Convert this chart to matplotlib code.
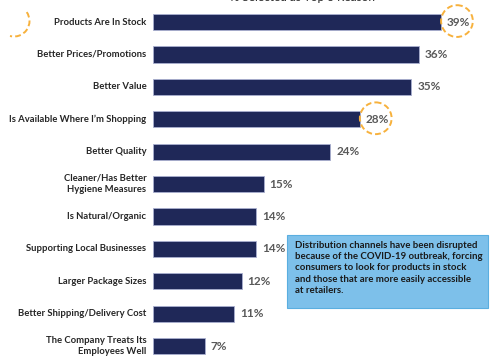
import matplotlib
matplotlib.use('Agg')
import matplotlib.pyplot as plt
from matplotlib.patches import Ellipse, Rectangle, Arc

plt.rcParams['font.family'] = ['Lato', 'DejaVu Sans']

categories = [
    "Products Are In Stock",
    "Better Prices/Promotions",
    "Better Value",
    "Is Available Where I\u2019m Shopping",
    "Better Quality",
    "Cleaner/Has Better\nHygiene Measures",
    "Is Natural/Organic",
    "Supporting Local Businesses",
    "Larger Package Sizes",
    "Better Shipping/Delivery Cost",
    "The Company Treats Its\nEmployees Well",
]
values = [39, 36, 35, 28, 24, 15, 14, 14, 12, 11, 7]
highlight = ["Products Are In Stock", "Is Available Where I\u2019m Shopping"]
title = "% Selected as Top 3 Reason"
note = ("Distribution channels have been disrupted\n"
        "because of the COVID-19 outbreak, forcing\n"
        "consumers to look for products in stock\n"
        "and those that are more easily accessible\n"
        "at retailers.")

NAVY = "#1F2858"
LABEL_GREY = "#595959"
ORANGE = "#F7B13C"
BOX_BLUE = "#7DC0EA"

fig = plt.figure(figsize=(5, 3.59), dpi=100)
ax = fig.add_axes([153 / 500, 0, 1 - 153 / 500, 1])

ypos = list(range(len(categories)))
ax.barh(ypos, values, height=0.5, color=NAVY, edgecolor="#A9AFD0", linewidth=0.6)
ax.set_xlim(0, 47)
ax.set_ylim(10.40, -0.68)
ax.axis("off")

for y, v, c in zip(ypos, values, categories):
    ax.text(-0.9, y, c, ha="right", va="center", fontsize=6.8, fontweight="bold",
            color="#262626", linespacing=1.3)
    ax.text(v + 0.8, y, f"{v}%", ha="left", va="center", fontsize=8.5,
            fontweight="bold", color=LABEL_GREY)
    if c in highlight:
        ax.add_patch(Ellipse((v + 2.17, y - 0.03), width=4.3, height=0.98, fill=False,
                             edgecolor=ORANGE, linestyle=(0, (3, 1.6)), linewidth=1.4,
                             clip_on=False))

# overlay in pixel coordinates for decorations
ov = fig.add_axes([0, 0, 1, 1], zorder=5)
ov.set_xlim(0, 500)
ov.set_ylim(359, 0)
ov.axis("off")
ov.patch.set_alpha(0)
ov.add_patch(Arc((14, 21), 31, 31, theta1=-35, theta2=105, edgecolor=ORANGE,
                 linestyle=(0, (3, 1.6)), linewidth=1.4))

ov.add_patch(Rectangle((287, 235), 201, 73, facecolor=BOX_BLUE, edgecolor="#5AAEE0",
                       linewidth=0.8))
ov.text(295, 241, note, ha="left", va="top", fontsize=6.9, fontweight="bold",
        color="#1A1A1A", linespacing=1.32)

fig.text(0.604, 1.006, title, ha="center", va="center", fontsize=8.5, color="#262626")

fig.savefig("out.png", dpi=100)
